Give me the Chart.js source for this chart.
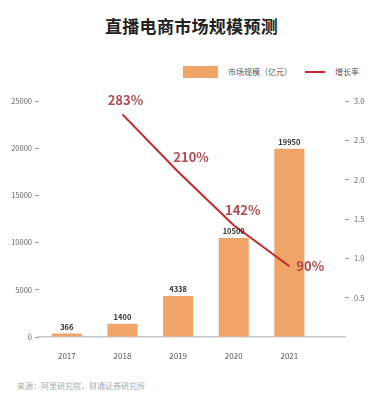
<!DOCTYPE html>
<html>
<head>
<meta charset="utf-8">
<script src="https://cdn.jsdelivr.net/npm/chart.js@4.4.1/dist/chart.umd.min.js"></script>
<style>
  html, body { margin: 0; padding: 0; background: #fff; }
  body { width: 383px; height: 400px; position: relative; overflow: hidden; font-family: "Noto Sans CJK SC", "Noto Sans", sans-serif; }
  #title { position: absolute; left: 0; width: 383px; top: 13px; text-align: center; font-size: 17px; font-weight: bold; color: #222; letter-spacing: 0.3px; }
  .lg { position: absolute; font-size: 8px; color: #555; line-height: 12px; }
  #src { position: absolute; left: 17px; top: 380px; font-size: 8px; color: #aaa; }
  #wrap { position: absolute; left: 0; top: 0; width: 383px; height: 400px; }
</style>
</head>
<body>
<div id="title">直播电商市场规模预测</div>
<div style="position:absolute;left:183px;top:66px;width:35px;height:12px;background:#f0a468;"></div>
<div class="lg" style="left:228px;top:66px;">市场规模（亿元）</div>
<div style="position:absolute;left:305px;top:71px;width:20px;height:2px;background:#c62828;"></div>
<div class="lg" style="left:335px;top:66px;">增长率</div>
<div id="src">来源：阿里研究院，财通证券研究所</div>
<div id="wrap"><canvas id="c" width="383" height="400"></canvas></div>
<script>
const categories = ['2017', '2018', '2019', '2020', '2021'];
const marketSize = [366, 1400, 4338, 10500, 19950];
const growthRate = [null, 2.83, 2.10, 1.42, 0.90];
const growthLabels = ['', '283%', '210%', '142%', '90%'];
const leftTicks = [0, 5000, 10000, 15000, 20000, 25000];
const rightTicks = [0.5, 1.0, 1.5, 2.0, 2.5, 3.0];

const barPoints = marketSize.map((v, i) => ({ x: i, y: v }));
const linePoints = growthRate.map((v, i) => ({ x: i, y: v })).filter(p => p.y !== null);

const labelOffsets = [null, [3, -14], [13, -15], [9, -15], [7, 0, 'left']];

const labelPlugin = {
  id: 'labels',
  afterDatasetsDraw(chart) {
    const ctx = chart.ctx;
    ctx.save();
    const barMeta = chart.getDatasetMeta(0);
    ctx.font = 'bold 7.5px "Noto Sans CJK SC", "Noto Sans", sans-serif';
    ctx.fillStyle = '#333';
    ctx.textAlign = 'center';
    ctx.textBaseline = 'bottom';
    barMeta.data.forEach((el, i) => {
      ctx.fillText(String(marketSize[i]), el.x, el.y - 3);
    });
    const lineMeta = chart.getDatasetMeta(1);
    ctx.font = 'bold 13px "Noto Sans CJK SC", "Noto Sans", sans-serif';
    ctx.fillStyle = '#b24a4e';
    ctx.textBaseline = 'middle';
    lineMeta.data.forEach((el, j) => {
      const idx = linePoints[j].x;
      const off = labelOffsets[idx];
      if (!off) return;
      ctx.textAlign = off[2] || 'center';
      ctx.fillText(growthLabels[idx], el.x + off[0], el.y + off[1]);
    });
    ctx.restore();
  }
};

new Chart(document.getElementById('c'), {
  type: 'bar',
  data: {
    datasets: [
      {
        type: 'bar',
        data: barPoints,
        backgroundColor: '#f0a468',
        yAxisID: 'y',
        barPercentage: 0.6,
        categoryPercentage: 0.9,
        order: 2
      },
      {
        type: 'line',
        data: linePoints,
        borderColor: '#c62828',
        borderWidth: 2,
        pointRadius: 0,
        tension: 0,
        fill: false,
        yAxisID: 'y1',
        order: 1
      }
    ]
  },
  options: {
    responsive: false,
    animation: false,
    layout: { padding: { top: 101, bottom: 35, left: 0, right: 0 } },
    plugins: { legend: { display: false }, title: { display: false }, tooltip: { enabled: false } },
    scales: {
      x: {
        type: 'linear',
        offset: false,
        min: -0.5,
        max: 5,
        afterBuildTicks(scale) {
          scale.ticks = categories.map((c, i) => ({ value: i }));
        },
        afterFit(scale) { scale.height = 28; },
        grid: { display: false },
        border: { display: true, color: '#c8c8c8', width: 1.5 },
        ticks: {
          padding: 6,
          color: '#555',
          font: { size: 8, family: '"Noto Sans CJK SC", "Noto Sans", sans-serif' },
          callback: (v) => categories[v] !== undefined ? categories[v] : ''
        }
      },
      y: {
        position: 'left',
        min: 0,
        max: 25000,
        afterBuildTicks(scale) { scale.ticks = leftTicks.map(v => ({ value: v })); },
        afterFit(scale) { scale.width = 39; },
        grid: { display: true, drawOnChartArea: false, drawTicks: true, tickLength: 4, color: '#999' },
        border: { display: false },
        ticks: {
          padding: 3,
          color: '#666',
          font: { size: 7.5, family: '"Noto Sans CJK SC", "Noto Sans", sans-serif' },
          callback: (v) => String(v)
        }
      },
      y1: {
        position: 'right',
        min: 0,
        max: 3,
        afterBuildTicks(scale) { scale.ticks = rightTicks.map(v => ({ value: v })); },
        afterFit(scale) { scale.width = 38; },
        grid: { display: true, drawOnChartArea: false, drawTicks: true, tickLength: 4, color: '#999' },
        border: { display: false },
        ticks: {
          padding: 5,
          color: '#666',
          font: { size: 7.5, family: '"Noto Sans CJK SC", "Noto Sans", sans-serif' },
          callback: (v) => Number(v).toFixed(1)
        }
      }
    }
  },
  plugins: [labelPlugin]
});
</script>
</body>
</html>
